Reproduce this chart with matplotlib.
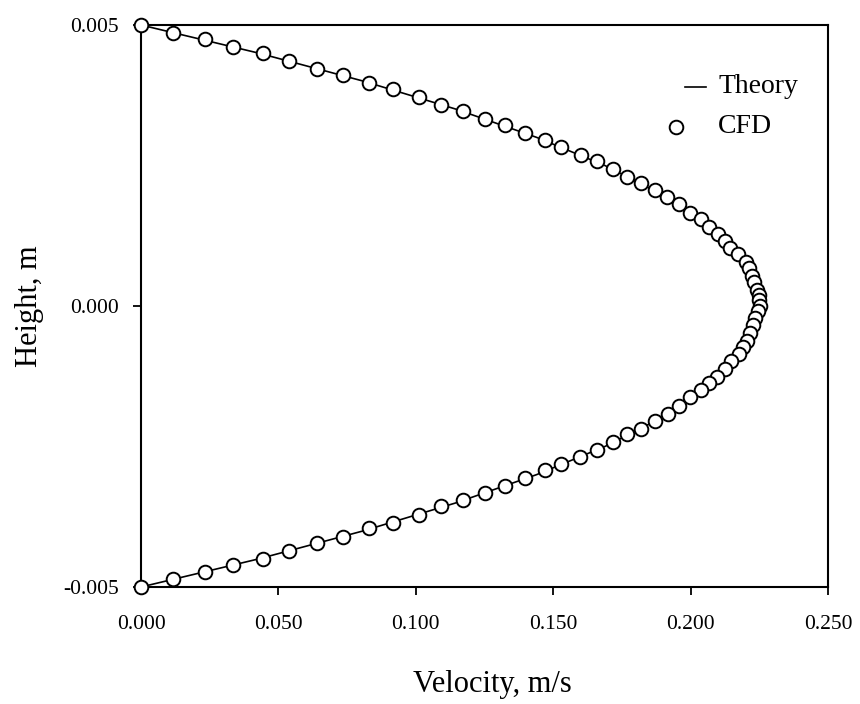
import matplotlib
matplotlib.use("Agg")
import matplotlib.pyplot as plt
from matplotlib.lines import Line2D

# CFD data: height (m) and velocity (m/s)
cfd_height = [
    0.00500, 0.00485, 0.00475, 0.00460, 0.00450, 0.00436, 0.00422, 0.00411, 0.00397, 0.00386,
    0.00371, 0.00358, 0.00347, 0.00333, 0.00322, 0.00307, 0.00295, 0.00283, 0.00269, 0.00258,
    0.00244, 0.00230, 0.00219, 0.00206, 0.00194, 0.00181, 0.00166, 0.00155, 0.00141, 0.00128,
    0.00116, 0.00103, 0.00093, 0.00078, 0.00068, 0.00053, 0.00043, 0.00028, 0.00020, 0.00011,
    0.00000,
    -0.00009, -0.00021, -0.00034, -0.00048, -0.00062, -0.00073, -0.00085, -0.00098, -0.00112, -0.00126,
    -0.00137, -0.00149, -0.00162, -0.00178, -0.00192, -0.00205, -0.00219, -0.00228, -0.00242, -0.00256,
    -0.00269, -0.00281, -0.00292, -0.00306, -0.00320, -0.00333, -0.00345, -0.00356, -0.00372, -0.00386,
    -0.00395, -0.00411, -0.00422, -0.00436, -0.00450, -0.00461, -0.00473, -0.00486, -0.00500,
]
cfd_velocity = [
    0.0000, 0.0115, 0.0233, 0.0336, 0.0443, 0.0539, 0.0642, 0.0734, 0.0830, 0.0918,
    0.1012, 0.1092, 0.1172, 0.1252, 0.1325, 0.1397, 0.1470, 0.1528, 0.1601, 0.1659,
    0.1718, 0.1769, 0.1820, 0.1870, 0.1914, 0.1958, 0.1998, 0.2038, 0.2067, 0.2100,
    0.2125, 0.2143, 0.2173, 0.2202, 0.2213, 0.2223, 0.2231, 0.2242, 0.2249, 0.2249,
    0.2253,
    0.2245, 0.2234, 0.2227, 0.2216, 0.2205, 0.2191, 0.2176, 0.2147, 0.2125, 0.2096,
    0.2067, 0.2038, 0.1998, 0.1958, 0.1918, 0.1870, 0.1820, 0.1769, 0.1718, 0.1659,
    0.1598, 0.1528, 0.1470, 0.1397, 0.1325, 0.1252, 0.1172, 0.1092, 0.1012, 0.0917,
    0.0830, 0.0735, 0.0640, 0.0539, 0.0444, 0.0335, 0.0233, 0.0116, 0.0000,
]

# Theory curve
theory_height = [0.0050, 0.0045, 0.0040, 0.0035, 0.0030, 0.0025, 0.0020, 0.0015, 0.0010, 0.0005,
                 0.0000, -0.0005, -0.0010, -0.0015, -0.0020, -0.0025, -0.0030, -0.0035, -0.0040,
                 -0.0045, -0.0050]
theory_velocity = [0.0000, 0.0428, 0.0810, 0.1148, 0.1440, 0.1688, 0.1890, 0.2048, 0.2160, 0.2228,
                   0.2250, 0.2228, 0.2160, 0.2048, 0.1890, 0.1688, 0.1440, 0.1148, 0.0810,
                   0.0428, 0.0000]

x_ticks = [0.000, 0.050, 0.100, 0.150, 0.200, 0.250]
x_tick_labels = ["0.000", "0.050", "0.100", "0.150", "0.200", "0.250"]
y_ticks = [-0.005, 0.000, 0.005]
y_tick_labels = ["-0.005", "0.000", "0.005"]
legend_labels = ["Theory", "CFD"]

plt.rcParams['font.family'] = ['Liberation Serif', 'DejaVu Serif']

MS = 9.8
MEW = 1.4

fig = plt.figure(figsize=(8.6, 7.04), dpi=100)
ax = fig.add_axes([141/860, 1 - 587/704, 687/860, 562/704])

ax.plot(theory_velocity, theory_height, color='black', lw=1.2, zorder=2)
ax.plot(cfd_velocity, cfd_height, linestyle='none', marker='o', markersize=MS,
        markerfacecolor='white', markeredgecolor='black', markeredgewidth=MEW, zorder=3,
        clip_on=False)

ax.set_xlim(0, 0.25)
ax.set_ylim(-0.005, 0.005)
ax.set_xticks(x_ticks)
ax.set_xticklabels(x_tick_labels)
ax.set_yticks(y_ticks)
ax.set_yticklabels(y_tick_labels)
ax.tick_params(axis='both', direction='out', length=6, width=1.3, labelsize=15.5, color='black')
ax.tick_params(axis='x', pad=14)
ax.tick_params(axis='y', pad=10)
for s in ax.spines.values():
    s.set_linewidth(1.5)

ax.set_xlabel("Velocity, m/s", fontsize=22)
ax.set_ylabel("Height, m", fontsize=22)
ax.xaxis.set_label_coords(0.511, -0.148)
ax.yaxis.set_label_coords(-0.141, 0.5)

# legend (SigmaPlot style: line and symbol keys at different offsets)
ax.add_line(Line2D([0.792, 0.822], [0.890, 0.890], color='black', lw=1.2,
                   transform=ax.transAxes))
ax.add_line(Line2D([0.779], [0.819], linestyle='none', marker='o', markersize=MS,
                   markerfacecolor='white', markeredgecolor='black', markeredgewidth=MEW,
                   transform=ax.transAxes))
ax.text(0.840, 0.890, legend_labels[0], transform=ax.transAxes, fontsize=20,
        ha='left', va='center')
ax.text(0.840, 0.819, legend_labels[1], transform=ax.transAxes, fontsize=20,
        ha='left', va='center')

fig.savefig("out.png", dpi=100)
